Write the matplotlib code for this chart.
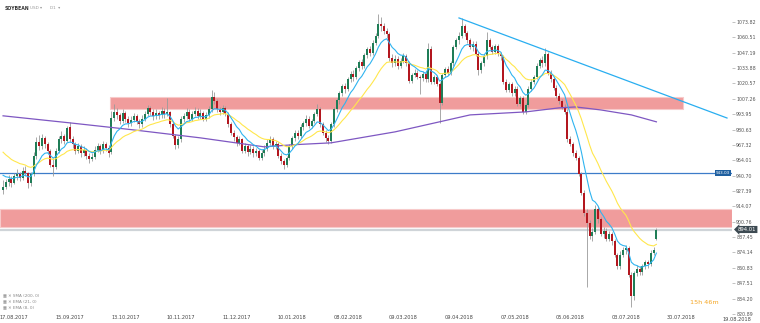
import matplotlib
matplotlib.use('Agg')
import matplotlib.pyplot as plt
import matplotlib.transforms as mtransforms
from matplotlib.patches import Rectangle
import numpy as np

# daily candles, SOYBEAN D1
opens = [928, 931, 935, 938, 934, 940, 942, 939, 945, 943,
         934, 942, 958, 970, 966, 973, 968, 962, 950, 948,
         962, 972, 975, 971, 983, 972, 968, 962, 966, 960,
         963, 958, 955, 957, 963, 966, 962, 968, 965, 961,
         991, 996, 993, 988, 995, 990, 986, 989, 992, 988,
         985, 990, 994, 999, 996, 992, 995, 993, 997, 994,
         996, 985, 975, 967, 972, 990, 992, 996, 990, 994,
         997, 992, 995, 990, 993, 998, 1009, 1005, 998, 996,
         999, 994, 985, 978, 974, 969, 972, 962, 966, 961,
         964, 960, 962, 956, 960, 964, 969, 972, 966, 968,
         958, 953, 950, 956, 966, 973, 978, 975, 983, 986,
         990, 984, 988, 994, 998, 985, 978, 973, 971, 985,
         998, 1006, 1012, 1018, 1016, 1024, 1029, 1026, 1034, 1039,
         1036, 1045, 1050, 1047, 1056, 1062, 1072, 1070, 1066, 1063,
         1043, 1038, 1042, 1036, 1040, 1044, 1038, 1023, 1028, 1030,
         1026, 1025, 1029, 1024, 1050, 1022, 1026, 1020, 1004, 1028,
         1033, 1030, 1038, 1052, 1058, 1062, 1070, 1064, 1058, 1052,
         1055, 1046, 1032, 1038, 1044, 1058, 1052, 1048, 1053, 1046,
         1044, 1022, 1015, 1020, 1012, 1016, 1003, 1008, 996, 1002,
         1016, 1022, 1026, 1036, 1041, 1038, 1046, 1030, 1024, 1017,
         1010, 1005, 1000, 996, 972, 968, 960, 956, 942, 926,
         908, 900, 888, 892, 912, 903, 890, 893, 886, 890,
         884, 872, 862, 872, 876, 878, 855, 836, 856, 860,
         857, 862, 866, 864, 874, 886]
highs = [937, 938, 941, 940, 943, 946, 944, 948, 949, 944,
         944, 961, 974, 976, 977, 975, 970, 964, 956, 965,
         975, 979, 977, 984, 987, 975, 970, 969, 968, 966,
         965, 960, 960, 966, 969, 968, 971, 970, 967, 997,
         1003, 999, 995, 998, 997, 992, 992, 995, 994, 990,
         993, 997, 1002, 1001, 998, 998, 997, 1000, 999, 1008,
         997, 987, 977, 975, 992, 995, 999, 998, 997, 1000,
         999, 998, 997, 996, 1001, 1015, 1013, 1007, 1000, 1002,
         1001, 996, 987, 980, 976, 975, 973, 969, 968, 967,
         966, 965, 964, 963, 967, 972, 975, 974, 971, 970,
         960, 955, 958, 968, 975, 980, 980, 985, 988, 993,
         992, 990, 996, 1003, 1000, 987, 980, 976, 987, 1000,
         1008, 1014, 1020, 1021, 1026, 1031, 1032, 1036, 1041, 1042,
         1047, 1052, 1053, 1058, 1064, 1081, 1078, 1073, 1069, 1065,
         1046, 1045, 1044, 1043, 1047, 1046, 1040, 1030, 1033, 1032,
         1028, 1031, 1031, 1056, 1053, 1028, 1028, 1022, 1030, 1035,
         1036, 1040, 1054, 1060, 1065, 1077, 1072, 1066, 1060, 1057,
         1057, 1048, 1040, 1046, 1065, 1060, 1054, 1055, 1055, 1048,
         1045, 1024, 1022, 1022, 1018, 1018, 1010, 1010, 1004, 1018,
         1024, 1028, 1038, 1043, 1044, 1051, 1048, 1032, 1026, 1019,
         1012, 1007, 1003, 998, 975, 970, 963, 958, 944, 928,
         912, 902, 895, 915, 914, 905, 896, 895, 893, 892,
         886, 874, 875, 879, 881, 880, 857, 858, 863, 862,
         864, 868, 868, 876, 879, 895]
lows = [925, 929, 932, 931, 933, 937, 936, 937, 940, 930,
        932, 940, 955, 963, 964, 965, 959, 948, 940, 946,
        960, 969, 968, 970, 970, 965, 959, 960, 957, 958,
        955, 952, 953, 955, 961, 959, 960, 962, 957, 959,
        988, 990, 985, 986, 987, 983, 984, 987, 985, 982,
        983, 988, 992, 993, 989, 990, 990, 991, 991, 992,
        983, 973, 964, 965, 970, 987, 990, 988, 988, 992,
        990, 990, 988, 988, 991, 996, 1003, 996, 993, 994,
        992, 983, 976, 971, 966, 967, 960, 960, 958, 959,
        957, 958, 954, 954, 958, 962, 967, 964, 964, 956,
        951, 946, 948, 954, 964, 971, 972, 973, 980, 984,
        982, 982, 986, 992, 983, 976, 970, 968, 969, 983,
        996, 1003, 1010, 1012, 1014, 1022, 1023, 1024, 1031, 1033,
        1034, 1043, 1044, 1045, 1054, 1060, 1066, 1063, 1060, 1040,
        1035, 1036, 1033, 1034, 1038, 1036, 1021, 1021, 1026, 1024,
        1011, 1023, 1022, 1022, 1020, 1020, 1018, 986, 1002, 1026,
        1028, 1028, 1036, 1050, 1055, 1060, 1062, 1056, 1050, 1049,
        1044, 1028, 1030, 1036, 1042, 1050, 1046, 1046, 1044, 1041,
        1020, 1013, 1013, 1010, 1010, 1001, 1001, 994, 994, 1000,
        1014, 1020, 1024, 1034, 1035, 1036, 1028, 1022, 1015, 1008,
        1003, 998, 994, 970, 966, 958, 954, 940, 924, 906,
        844, 886, 884, 890, 900, 888, 887, 884, 884, 881,
        870, 860, 860, 870, 873, 853, 827, 833, 854, 855,
        855, 860, 861, 862, 872, 885]
closes = [931, 935, 938, 934, 940, 942, 939, 945, 943, 934,
          942, 958, 970, 966, 973, 968, 962, 950, 948, 962,
          972, 975, 971, 982, 972, 968, 962, 966, 960, 963,
          958, 955, 957, 963, 966, 962, 968, 965, 960, 991,
          996, 993, 988, 995, 990, 986, 989, 992, 988, 985,
          990, 994, 999, 996, 992, 995, 993, 997, 994, 996,
          985, 975, 967, 972, 990, 992, 996, 990, 994, 997,
          992, 995, 990, 993, 998, 1009, 1005, 998, 996, 999,
          994, 985, 978, 974, 969, 972, 962, 966, 961, 964,
          960, 962, 956, 960, 964, 969, 972, 966, 968, 958,
          953, 950, 956, 966, 973, 978, 975, 983, 986, 990,
          984, 988, 994, 998, 985, 978, 973, 971, 985, 998,
          1006, 1012, 1018, 1016, 1024, 1029, 1026, 1034, 1039, 1036,
          1045, 1050, 1047, 1056, 1062, 1072, 1070, 1066, 1063, 1043,
          1038, 1042, 1036, 1040, 1044, 1038, 1023, 1028, 1030, 1026,
          1025, 1029, 1024, 1050, 1022, 1026, 1020, 1004, 1028, 1033,
          1030, 1038, 1052, 1058, 1062, 1070, 1064, 1058, 1052, 1055,
          1046, 1032, 1038, 1044, 1058, 1052, 1048, 1053, 1046, 1044,
          1022, 1015, 1020, 1012, 1016, 1003, 1008, 996, 1002, 1016,
          1022, 1026, 1036, 1041, 1038, 1046, 1030, 1024, 1017, 1010,
          1005, 1000, 996, 972, 968, 960, 956, 942, 926, 908,
          900, 888, 892, 912, 903, 890, 893, 886, 890, 884,
          872, 862, 872, 876, 878, 855, 836, 856, 860, 857,
          862, 866, 864, 874, 876, 894.01]

# SMA 200 at a few bars
sma_bars = [0, 24, 47, 71, 94, 104, 118, 141, 157, 168, 188, 200, 206, 215, 226, 235]
sma_vals = [992.5, 986.4, 980.3, 973.4, 965.6, 967.4, 969.1, 978.6, 987.3, 993.3,
            995.9, 999.4, 1000.2, 997.6, 993.3, 987.3]

ema8_start = 941
ema21_start = 961

date_labels = ['17.08.2017', '15.09.2017', '13.10.2017', '10.11.2017', '11.12.2017',
               '10.01.2018', '08.02.2018', '09.03.2018', '09.04.2018', '07.05.2018',
               '05.06.2018', '03.07.2018', '30.07.2018', '19.08.2018']
price_ticks = [1073.82, 1060.51, 1047.19, 1033.88, 1020.57, 1007.26, 993.95, 980.63,
               967.32, 954.01, 940.70, 927.39, 914.07, 900.76, 887.45, 874.14,
               860.83, 847.51, 834.20, 820.89]

support_level = 943.03
last_price = 894.01
upper_zone = (998.3, 1008.6)
lower_zone = (896.4, 911.8)
trend_bars = [164, 260.4]
trend_vals = [1077.3, 990.6]


def ema(values, span, seed):
    alpha = 2.0 / (span + 1)
    out = [seed]
    for v in values[1:]:
        out.append(out[-1] + alpha * (v - out[-1]))
    return out


o = np.array(opens, dtype=float)
h = np.array(highs, dtype=float)
l = np.array(lows, dtype=float)
c = np.array(closes, dtype=float)
x = np.arange(len(c))

fig = plt.figure(figsize=(7.6, 3.23), dpi=100)
ax = fig.add_axes([0, 9 / 323, 732 / 760, 314 / 323])
ax.set_xlim(-1.1, 262.2)
ax.set_ylim(820.8, 1092.85)

# zones
ax.axhspan(lower_zone[0], lower_zone[1], facecolor='#f09c9c', edgecolor='#f7caca', lw=0.8, zorder=0)
ax.add_patch(Rectangle((38.5, upper_zone[0]), 244.6 - 38.5, upper_zone[1] - upper_zone[0],
                       facecolor='#f09c9c', edgecolor='#f7caca', lw=0.8, zorder=0))
ax.axhline(last_price, color='#cfd4d8', lw=1.6, zorder=1)
ax.axhline(support_level, color='#3d7cc9', lw=0.9, zorder=1)

# candles
up = c >= o
colors = np.where(up, '#1f7d57', '#b3171f')
ax.vlines(x, l, h, color='#9a9a9a', lw=0.6, zorder=2)
ax.bar(x, np.maximum(np.abs(c - o), 0.6), bottom=np.minimum(o, c), width=0.72,
       color=colors, lw=0, zorder=3)

# indicators
ax.plot(sma_bars, sma_vals, color='#7e57c2', lw=0.9, zorder=4)
ax.plot(x, ema(closes, 21, ema21_start), color='#ffe74c', lw=0.8, zorder=4)
ax.plot(x, ema(closes, 8, ema8_start), color='#2fb4f0', lw=0.8, zorder=5)
ax.plot(trend_bars, trend_vals, color='#29aef0', lw=0.9, zorder=5)

# axes styling
for s in ax.spines.values():
    s.set_visible(False)
ax.yaxis.tick_right()
ax.set_yticks(price_ticks)
ax.set_yticklabels([f'{v:.2f}' for v in price_ticks])
ax.tick_params(axis='y', labelsize=3.4, labelcolor='#555555', length=2, width=0.5,
               color='#aaaaaa', pad=1)
tick_pos = [4 + 20 * j for j in range(len(date_labels) - 1)]
ax.set_xticks(tick_pos)
ax.set_xticklabels(date_labels[:-1])
ax.tick_params(axis='x', labelsize=3.6, labelcolor='#444444', length=0, pad=1)
ax.text(4 + 20 * (len(date_labels) - 1), -0.008, date_labels[-1], fontsize=3.6, color='#444444',
        ha='center', va='top', transform=ax.get_xaxis_transform(), clip_on=False)

# price labels
ax.text(261.5, support_level, f'{support_level:.2f}', fontsize=3.0, color='white',
        ha='right', va='center', zorder=6,
        bbox=dict(boxstyle='square,pad=0.25', fc='#1f5f9f', ec='none'))
trans = mtransforms.blended_transform_factory(ax.transAxes, ax.transData)
ax.text(1.008, last_price, f'{last_price:.2f}', fontsize=3.8, color='white', ha='left',
        va='center', transform=trans, clip_on=False, zorder=6,
        bbox=dict(boxstyle='larrow,pad=0.2', fc='#3d4a52', ec='none'))

# header and legend
fig.text(5 / 760, 1 - 8 / 323, 'SOYBEAN', fontsize=3.3, fontweight='bold', color='#333333', va='center')
fig.text(30 / 760, 1 - 8 / 323, 'USD \u25be', fontsize=3.0, color='#999999', va='center')
fig.text(50 / 760, 1 - 8 / 323, 'D1  \u25be', fontsize=3.0, color='#999999', va='center')
for i, name in enumerate(['SMA (200, 0)', 'EMA (21, 0)', 'EMA (8, 0)']):
    fig.text(3 / 760, 1 - (295 + 6 * i) / 323, '\u25a6 \u2715 ' + name, fontsize=3.0,
             color='#888888', va='center')
fig.text(704 / 760, 1 - 303 / 323, '15h 46m', fontsize=4.6, color='#f5a623', ha='center', va='center')

fig.savefig('out.png', dpi=100)
